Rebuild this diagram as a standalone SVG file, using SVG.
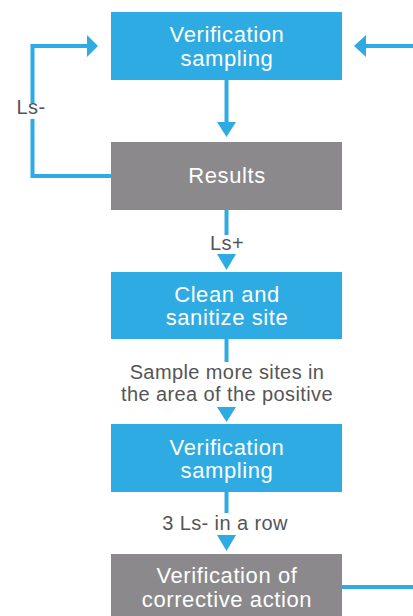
<svg xmlns="http://www.w3.org/2000/svg" width="413" height="616" viewBox="0 0 413 616">
<style>
.blue{fill:#2eabe2}
.gray{fill:#8b898c}
.bt{font-family:"Liberation Sans",Arial,sans-serif;font-size:22px;letter-spacing:0.6px;fill:#fff;text-anchor:middle}
.lb{font-family:"Liberation Sans",Arial,sans-serif;font-size:20px;letter-spacing:0.4px;fill:#555557;text-anchor:middle}
.ln{stroke:#2eabe2;stroke-width:4;fill:none}
.ah{fill:#2eabe2}
</style>
<rect width="413" height="616" fill="#fff"/>
<g id="connectors">
  <line class="ln" x1="226.5" y1="80" x2="226.5" y2="123"/>
  <polygon class="ah" points="217,122 236,122 226.5,137"/>
  <polyline class="ln" points="111,176 32.5,176 32.5,119"/>
  <polyline class="ln" points="32.5,103 32.5,46 88,46"/>
  <polygon class="ah" points="87,35 98,46 87,57"/>
  <text class="lb" x="31" y="114">Ls-</text>
  <line class="ln" x1="413" y1="46" x2="365" y2="46"/>
  <polygon class="ah" points="366,35 354,46 366,57"/>
  <line class="ln" x1="226.5" y1="210" x2="226.5" y2="235"/>
  <text class="lb" x="227" y="250">Ls+</text>
  <polygon class="ah" points="217,254 236,254 226.5,270"/>
  <line class="ln" x1="226.5" y1="339" x2="226.5" y2="362"/>
  <text class="lb" x="227" y="379">Sample more sites in</text>
  <text class="lb" x="227" y="401">the area of the positive</text>
  <polygon class="ah" points="217,407 236,407 226.5,422"/>
  <line class="ln" x1="226.5" y1="492" x2="226.5" y2="513"/>
  <text class="lb" x="225" y="530">3 Ls- in a row</text>
  <polygon class="ah" points="217,535 236,535 226.5,551"/>
  <line class="ln" x1="342" y1="587" x2="413" y2="587"/>
</g>
<g id="n1"><rect class="blue" x="111" y="12" width="231" height="68"/><text class="bt" x="227" y="42">Verification</text><text class="bt" x="227" y="66">sampling</text></g>
<g id="n2"><rect class="gray" x="111" y="142" width="231" height="68"/><text class="bt" x="227" y="183">Results</text></g>
<g id="n3"><rect class="blue" x="111" y="272" width="231" height="67"/><text class="bt" x="227" y="302">Clean and</text><text class="bt" x="227" y="325">sanitize site</text></g>
<g id="n4"><rect class="blue" x="111" y="424" width="231" height="68"/><text class="bt" x="227" y="455">Verification</text><text class="bt" x="227" y="478">sampling</text></g>
<g id="n5"><rect class="gray" x="111" y="554" width="231" height="62"/><text class="bt" x="227" y="583">Verification of</text><text class="bt" x="227" y="607">corrective action</text></g>
</svg>
